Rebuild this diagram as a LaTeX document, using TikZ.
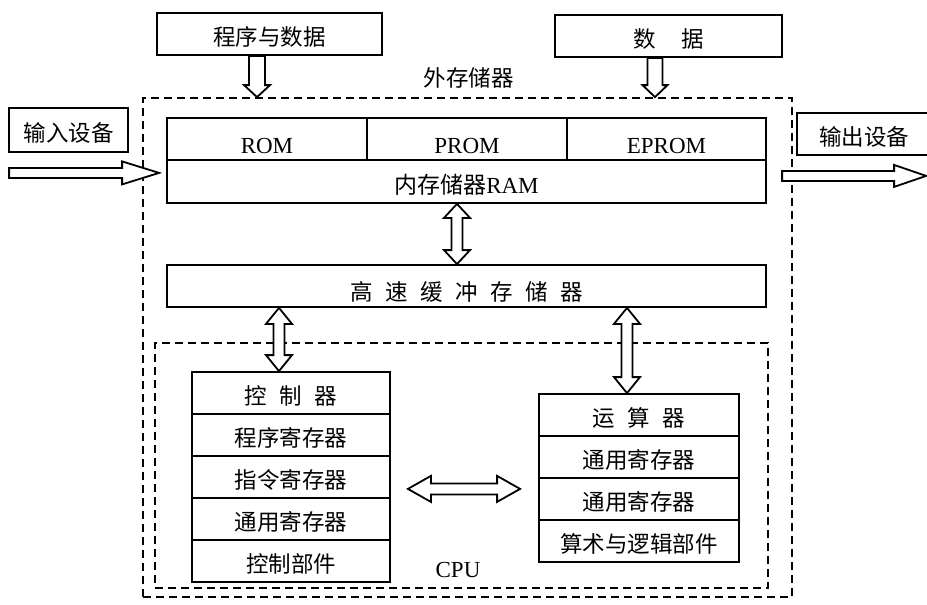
\documentclass[tikz,border=0pt]{standalone}
\usepackage{fontspec}
\setmainfont{Liberation Serif}
\newfontfamily\cjk{Noto Sans CJK SC}
\usetikzlibrary{calc}

\newcommand{\fatone}[5]{%
\draw[fat] ($(#1)!#3!90:(#2)$)
 -- ($($(#2)!#5!(#1)$)!#3!-90:(#1)$)
 -- ($($(#2)!#5!(#1)$)!#4!-90:(#1)$)
 -- (#2)
 -- ($($(#2)!#5!(#1)$)!#4!90:(#1)$)
 -- ($($(#2)!#5!(#1)$)!#3!90:(#1)$)
 -- ($(#1)!#3!-90:(#2)$) -- cycle;}

\newcommand{\fattwo}[5]{%
\draw[fat] (#1)
 -- ($($(#1)!#5!(#2)$)!#4!90:(#2)$)
 -- ($($(#1)!#5!(#2)$)!#3!90:(#2)$)
 -- ($($(#2)!#5!(#1)$)!#3!-90:(#1)$)
 -- ($($(#2)!#5!(#1)$)!#4!-90:(#1)$)
 -- (#2)
 -- ($($(#2)!#5!(#1)$)!#4!90:(#1)$)
 -- ($($(#2)!#5!(#1)$)!#3!90:(#1)$)
 -- ($($(#1)!#5!(#2)$)!#3!-90:(#2)$)
 -- ($($(#1)!#5!(#2)$)!#4!-90:(#2)$) -- cycle;}

\tikzset{
  cjkfont/.style={font=\cjk\fontsize{22.5}{24}\selectfont},
  latfont/.style={font=\fontsize{23}{24}\selectfont},
  box/.style={draw, line width=1.8pt, inner sep=0pt, cjkfont, text height=23pt, text depth=0pt},
  lowtext/.style={text height=28pt, text depth=0pt},
  dashbox/.style={draw, line width=1.8pt, dash pattern=on 8pt off 5pt, inner sep=0pt},
  fat/.style={draw, line width=1.8pt, fill=white, line join=miter},
  lbl/.style={inner sep=0pt, cjkfont},
}

\begin{document}
\begin{tikzpicture}[x=1pt,y=-1pt]
\useasboundingbox (0,0) rectangle (927,605);

% outer dashed box and CPU box
\node[dashbox, minimum width=649pt, minimum height=499pt] (outer) at (467.5,347.5) {};
\node[dashbox, minimum width=613pt, minimum height=245pt] (cpu) at (461.5,465.5) {};
\node[lbl] (extlbl) at (468.5,78) {外存储器};
\node[lbl, latfont] (cpulbl) at (458,570) {CPU};

% top sources
\node[box, minimum width=225pt, minimum height=42pt] (pd) at (269.5,34) {程序与数据};
\node[box, minimum width=227pt, minimum height=42pt] (data) at (668.5,36) {数\hspace{25pt}据};

% I/O
\node[box, minimum width=119pt, minimum height=44pt] (in) at (68.5,130) {输入设备};
\node[box, minimum width=134pt, minimum height=42pt] (out) at (864,134) {输出设备};

% memory
\node[box, latfont, lowtext, minimum width=200pt, minimum height=42pt] (rom) at (267,139) {ROM};
\node[box, latfont, lowtext, minimum width=200pt, minimum height=42pt] (prom) at (467,139) {PROM};
\node[box, latfont, lowtext, minimum width=199pt, minimum height=42pt] (eprom) at (666.5,139) {EPROM};
\node[box, latfont, minimum width=599pt, minimum height=43pt] (ram) at (466.5,181.5) {{\cjk 内存储器}RAM};

% cache
\node[box, text height=29pt, minimum width=599pt, minimum height=42pt] (cache) at (466.5,286)
  {高\hspace{12.5pt}速\hspace{12.5pt}缓\hspace{12.5pt}冲\hspace{12.5pt}存\hspace{12.5pt}储\hspace{12.5pt}器};

% controller stack
\node[box, minimum width=198pt, minimum height=42pt] (c1) at (291,393) {控\hspace{12.5pt}制\hspace{12.5pt}器};
\node[box, minimum width=198pt, minimum height=42pt] (c2) at (291,435) {程序寄存器};
\node[box, minimum width=198pt, minimum height=42pt] (c3) at (291,477) {指令寄存器};
\node[box, minimum width=198pt, minimum height=42pt] (c4) at (291,519) {通用寄存器};
\node[box, minimum width=198pt, minimum height=42pt] (c5) at (291,561) {控制部件};

% ALU stack
\node[box, minimum width=200pt, minimum height=42pt] (a1) at (639,415) {运\hspace{12.5pt}算\hspace{12.5pt}器};
\node[box, minimum width=200pt, minimum height=42pt] (a2) at (639,457) {通用寄存器};
\node[box, minimum width=200pt, minimum height=42pt] (a3) at (639,499) {通用寄存器};
\node[box, minimum width=200pt, minimum height=42pt] (a4) at (639,541) {算术与逻辑部件};

% connector end points
\coordinate (pdA) at ($(pd.south)+(-12.5,0)$);
\coordinate (pdB) at (pdA |- outer.north);
\coordinate (daA) at ($(data.south)+(-13.5,0)$);
\coordinate (daB) at (daA |- outer.north);
\coordinate (inA) at ($(in.south west)+(1,20)$);
\coordinate (inB0) at (inA -| ram.west);
\coordinate (inB) at ($(inB0)+(-7,0)$);
\coordinate (outA) at ($(out.south west)+(-14,20)$);
\coordinate (outB) at ($(outA)+(144,0)$);
\coordinate (rcA) at ($(ram.south)+(-9.5,0)$);
\coordinate (rcB) at (rcA |- cache.north);
\coordinate (ccB) at ($(c1.north)+(-12,0)$);
\coordinate (ccA) at (ccB |- cache.south);
\coordinate (caB) at ($(a1.north)+(-12,0)$);
\coordinate (caA) at (caB |- cache.south);
\coordinate (mA) at ($(c3.south east)+(17,-10)$);
\coordinate (mB0) at (mA -| a1.west);
\coordinate (mB) at ($(mB0)+(-18,0)$);

% hollow arrows
\fatone{pdA}{pdB}{8pt}{13pt}{12pt}
\fatone{daA}{daB}{7.5pt}{12.5pt}{12pt}
\fatone{inA}{inB}{5pt}{11.5pt}{37pt}
\fatone{outA}{outB}{5pt}{11pt}{32pt}
\fattwo{rcA}{rcB}{5.5pt}{13pt}{14pt}
\fattwo{ccA}{ccB}{5.5pt}{13pt}{16pt}
\fattwo{caA}{caB}{5.5pt}{13pt}{16pt}
\fattwo{mA}{mB}{5.5pt}{13pt}{23pt}
\end{tikzpicture}
\end{document}
